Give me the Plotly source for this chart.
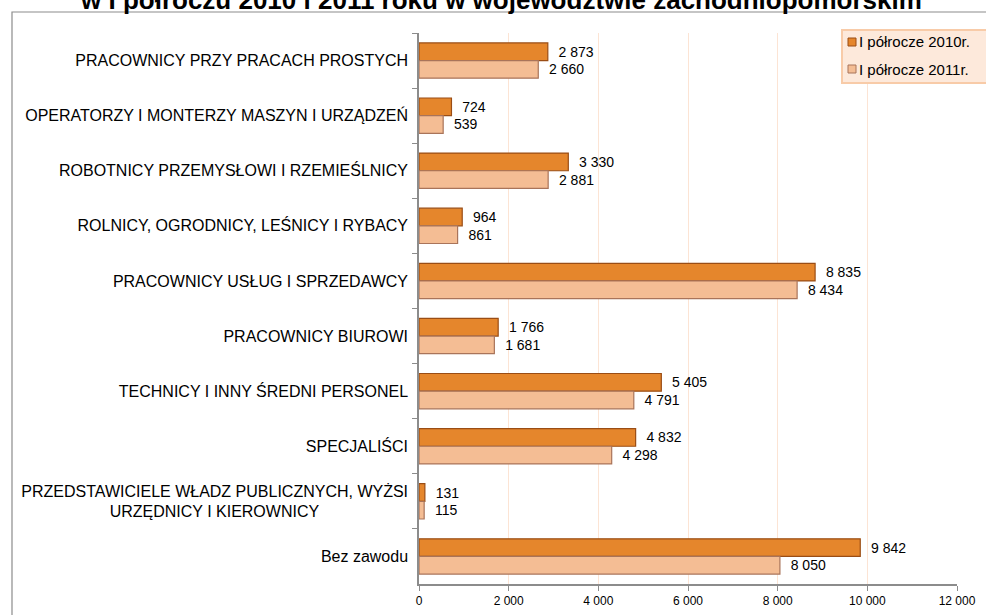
import plotly.graph_objects as go

categories = [
    "PRACOWNICY PRZY PRACACH PROSTYCH",
    "OPERATORZY I MONTERZY MASZYN I URZĄDZEŃ",
    "ROBOTNICY PRZEMYSŁOWI I RZEMIEŚLNICY",
    "ROLNICY, OGRODNICY, LEŚNICY I RYBACY",
    "PRACOWNICY USŁUG I SPRZEDAWCY",
    "PRACOWNICY BIUROWI",
    "TECHNICY I INNY ŚREDNI PERSONEL",
    "SPECJALIŚCI",
    "PRZEDSTAWICIELE WŁADZ PUBLICZNYCH, WYŻSI<br>URZĘDNICY I KIEROWNICY" + "\u00a0" * 20,
    "Bez zawodu",
]
values_2010 = [2873, 724, 3330, 964, 8835, 1766, 5405, 4832, 131, 9842]
values_2011 = [2660, 539, 2881, 861, 8434, 1681, 4791, 4298, 115, 8050]
series_names = ["I półrocze 2010r.", "I półrocze 2011r."]
series_colors = ["#E5862C", "#F4BD94"]
series_edges = ["#9A4D15", "#A9745A"]
x_ticks = [0, 2000, 4000, 6000, 8000, 10000, 12000]
x_tick_text = ["0", "2 000", "4 000", "6 000", "8 000", "10 000", "12 000"]
title_text = "w I półroczu 2010 i 2011 roku w województwie zachodniopomorskim"

FONT = "Liberation Sans, Arial, sans-serif"

fig = go.Figure()
for name, vals, col, edge in zip(series_names, [values_2010, values_2011], series_colors, series_edges):
    fig.add_trace(go.Bar(
        y=categories, x=vals, orientation="h", name=name,
        marker=dict(color=col, line=dict(color=edge, width=1.2)),
        texttemplate="\u00a0\u00a0%{x:,d}", textposition="outside",
        textfont=dict(family=FONT, size=14, color="#000000"),
        cliponaxis=False, showlegend=False,
    ))

L, R, T, B = 419, 957, 33, 584
W, H = R - L, B - T

def px_x(p):
    return (p - L) / W

def px_y(p):
    return (B - p) / H

shapes = [dict(
    type="rect", xref="paper", yref="paper",
    x0=px_x(12), x1=px_x(1000), y0=px_y(640), y1=px_y(12),
    line=dict(color="#8C8C8C", width=1.2), fillcolor="rgba(0,0,0,0)", layer="below",
)]
# legend box
shapes.append(dict(
    type="rect", xref="paper", yref="paper",
    x0=px_x(842), x1=px_x(1000), y0=px_y(83), y1=px_y(30),
    line=dict(color="#F8CBA8", width=2), fillcolor="#FDE9DB", layer="above",
))
annotations = [dict(
    text="<b>" + title_text + "</b>", xref="paper", yref="paper",
    x=px_x(501), y=px_y(17), xanchor="center", yanchor="bottom",
    showarrow=False, font=dict(family=FONT, size=26, color="#000000"),
)]
for i, (name, col, edge) in enumerate(zip(series_names, series_colors, series_edges)):
    cy = 42 + 27 * i
    shapes.append(dict(
        type="rect", xref="paper", yref="paper",
        x0=px_x(848), x1=px_x(856), y0=px_y(cy + 4), y1=px_y(cy - 4),
        line=dict(color=edge, width=1), fillcolor=col, layer="above",
    ))
    annotations.append(dict(
        text=name, xref="paper", yref="paper",
        x=px_x(857), y=px_y(cy), xanchor="left", yanchor="middle",
        showarrow=False, font=dict(family=FONT, size=15, color="#000000"),
    ))

fig.update_layout(
    width=986, height=615,
    margin=dict(l=L, r=986 - R, t=T, b=615 - B, pad=0),
    paper_bgcolor="white", plot_bgcolor="white",
    separators=", ",
    barmode="group", bargap=0.36, bargroupgap=0.0,
    font=dict(family=FONT, size=12, color="#000000"),
    showlegend=False,
    xaxis=dict(
        range=[0, 12000], tickvals=x_ticks, ticktext=x_tick_text,
        showgrid=True, gridcolor="#FCE4D4", gridwidth=1,
        showline=True, linecolor="#8C8C8C", linewidth=1.5,
        ticks="outside", ticklen=5, tickcolor="#8C8C8C",
        tickfont=dict(family=FONT, size=12, color="#000000"),
        zeroline=False, fixedrange=True, automargin=False,
    ),
    yaxis=dict(
        autorange="reversed", categoryorder="array", categoryarray=categories,
        showline=True, linecolor="#8C8C8C", linewidth=1.5,
        ticks="outside", ticklen=5, tickcolor="#8C8C8C", tickson="boundaries",
        tickfont=dict(family=FONT, size=16, color="#000000"),
        ticklabelstandoff=6,
        showgrid=False, fixedrange=True, automargin=False,
    ),
    shapes=shapes,
    annotations=annotations,
)

fig.write_html(
    "out.html",
    config={"displayModeBar": False},
    post_script="document.body.style.margin='0';document.body.style.overflow='hidden';",
)
